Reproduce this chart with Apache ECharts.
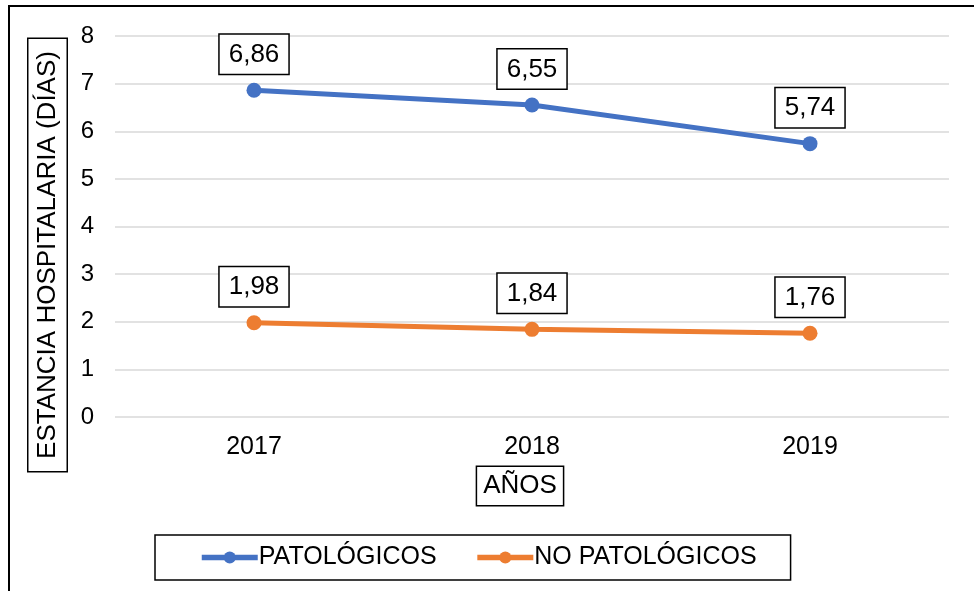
<!DOCTYPE html>
<html>
<head>
<meta charset="utf-8">
<script src="https://cdn.jsdelivr.net/npm/echarts@6/dist/echarts.min.js"></script>
<style>
  html, body { margin: 0; padding: 0; background: #fff; }
  #chart { width: 974px; height: 591px; }
</style>
</head>
<body>
<div id="chart"></div>
<script>
const years = ['2017', '2018', '2019']
const patologicos = [6.86, 6.55, 5.74]
const noPatologicos = [1.98, 1.84, 1.76]

const font = 'Liberation Sans, Arial, sans-serif'
const fmt = (p) => p.value.toFixed(2).replace('.', ',')

const boxLabel = {
    show: true,
    position: 'top',
    distance: 9,
    formatter: fmt,
    color: '#000',
    fontFamily: font,
    fontSize: 26,
    lineHeight: 26,
    backgroundColor: '#fff',
    borderColor: '#000',
    borderWidth: 1.5,
    padding: [7, 9, 6, 9]
}

const boxText = {
    fontFamily: font,
    fontSize: 26,
    fill: '#000',
    backgroundColor: '#fff',
    borderColor: '#000',
    borderWidth: 1.5,
    align: 'center',
    verticalAlign: 'middle'
}

const myChart = echarts.init(document.getElementById('chart'))
const option = {
    animation: false,
    textStyle: { fontFamily: font },
    graphic: [
        {
            type: 'rect',
            silent: true,
            shape: { x: 9, y: 6, width: 1000, height: 1000 },
            style: { fill: 'none', stroke: '#000', lineWidth: 2 }
        },
        {
            type: 'text',
            x: 47.5,
            y: 255,
            rotation: Math.PI / 2,
            style: Object.assign({ text: 'ESTANCIA HOSPITALARIA (DÍAS)', padding: [6, 12, 6, 12] }, boxText)
        },
        {
            type: 'text',
            x: 520,
            y: 486,
            style: Object.assign({ text: 'AÑOS', padding: [6, 6, 6, 6] }, boxText)
        }
    ],
    grid: {
        left: 115,
        right: 25,
        top: 36,
        bottom: 174
    },
    legend: {
        bottom: 11,
        left: 155,
        itemGap: 38,
        itemWidth: 56,
        itemHeight: 15,
        padding: [10, 34, 10, 44],
        borderColor: '#000',
        borderWidth: 1.5,
        lineStyle: { width: 5.5 },
        textStyle: { fontSize: 25, color: '#000', padding: [0, 0, 0, -4] },
        data: ['PATOLÓGICOS', 'NO PATOLÓGICOS']
    },
    xAxis: {
        type: 'category',
        data: years,
        boundaryGap: true,
        axisLine: { show: false },
        axisTick: { show: false },
        axisLabel: { fontSize: 25, color: '#000', margin: 18 }
    },
    yAxis: {
        type: 'value',
        min: 0,
        max: 8,
        interval: 1,
        axisLabel: { fontSize: 24, color: '#000', margin: 21 },
        splitLine: { lineStyle: { color: '#d9d9d9', width: 1.5 } }
    },
    series: [
        {
            name: 'PATOLÓGICOS',
            type: 'line',
            data: patologicos,
            symbol: 'circle',
            symbolSize: 15,
            itemStyle: { color: '#4472c4' },
            lineStyle: { color: '#4472c4', width: 5 },
            label: boxLabel
        },
        {
            name: 'NO PATOLÓGICOS',
            type: 'line',
            data: noPatologicos,
            symbol: 'circle',
            symbolSize: 15,
            itemStyle: { color: '#ed7d31' },
            lineStyle: { color: '#ed7d31', width: 5 },
            label: boxLabel
        }
    ]
}
myChart.setOption(option)
</script>
</body>
</html>
